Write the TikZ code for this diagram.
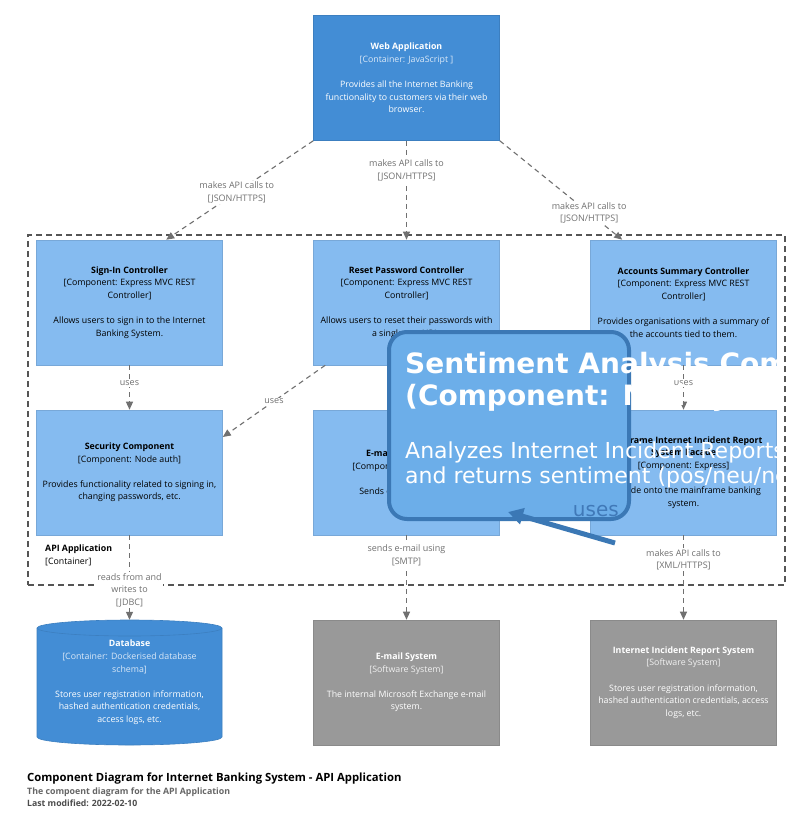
\documentclass[tikz,border=0pt]{standalone}
\usepackage{fontspec}
\setmainfont{Open Sans}
\newfontfamily\djv{DejaVu Sans}
\usetikzlibrary{arrows.meta,calc}
\definecolor{contblue}{HTML}{438DD5}
\definecolor{contedge}{HTML}{3C7FC0}
\definecolor{compblue}{HTML}{85BBF0}
\definecolor{compedge}{HTML}{78A8D8}
\definecolor{sysgray}{HTML}{999999}
\definecolor{sysedge}{HTML}{8A8A8A}
\definecolor{lnk}{HTML}{707070}
\definecolor{bnd}{HTML}{555555}
\definecolor{sentfill}{HTML}{6CAEE9}
\definecolor{sentedge}{HTML}{3B78B5}
\definecolor{usesblue}{HTML}{4079B8}
\begin{document}
\begin{tikzpicture}[x=1pt,y=-1pt,
  boxbase/.style={rectangle, minimum width=186pt, minimum height=125pt, inner sep=0pt, align=center, font=\fontsize{8.8}{12.6}\selectfont},
  compbox/.style={boxbase, fill=compblue, draw=compedge, line width=0.6pt, text=black},
  contbox/.style={boxbase, fill=contblue, draw=contedge, line width=0.6pt, text=white},
  sysbox/.style={boxbase, fill=sysgray, draw=sysedge, line width=0.6pt, text=white},
  rel/.style={draw=lnk, line width=1.1pt, dash pattern=on 5pt off 4pt, -{Triangle[length=8pt,width=7pt]}},
  rellabel/.style={fill=white, text=lnk, font=\fontsize{9}{12.6}\selectfont, align=center, inner sep=1pt},
  senttitle/.style={text=white, inner sep=0pt, font=\djv\bfseries\fontsize{28}{32}\selectfont},
  sentdesc/.style={text=white, inner sep=0pt, font=\djv\fontsize{22}{25}\selectfont},
]
\useasboundingbox (0,0) rectangle (808,827);
\fill[white] (0,0) rectangle (808,827);

% boundary
\node[draw=bnd, line width=1.1pt, dash pattern=on 6pt off 4pt, minimum width=757pt, minimum height=350pt, inner sep=0pt] (api) at (406.5,410) {};
\node[anchor=north west, inner sep=0pt, align=left, font=\fontsize{8.8}{12.6}\selectfont] (apilbl) at (45,545) {\textbf{API Application}\\{}[Container]};

% web app
\node[contbox] (web) at (406.5,78) {\textbf{Web Application}\\\textcolor{white!80!contblue}{[Container: JavaScript ]}\\[12.6pt]Provides all the Internet Banking\\functionality to customers via their web\\browser.};

% components
\node[compbox] (signin) at (129.5,302.5) {\textbf{Sign-In Controller}\\{}[Component: Express MVC REST\\Controller]\\[12.6pt]Allows users to sign in to the Internet\\Banking System.};
\node[compbox] (reset) at (406.5,302.5) {\textbf{Reset Password Controller}\\{}[Component: Express MVC REST\\Controller]\\[12.6pt]Allows users to reset their passwords with\\a single use URL.};
\node[compbox] (accts) at (683.5,302.5) {\textbf{Accounts Summary Controller}\\{}[Component: Express MVC REST\\Controller]\\[12.6pt]Provides organisations with a summary of\\the accounts tied to them.};
\node[compbox] (security) at (129.5,472.5) {\textbf{Security Component}\\{}[Component: Node auth]\\[12.6pt]Provides functionality related to signing in,\\changing passwords, etc.};
\node[compbox] (email) at (406.5,472.5) {\textbf{E-mail Component}\\{}[Component: Nodemailer]\\[12.6pt]Sends e-mails to users.};
\node[compbox] (mainframe) at (683.5,472.5) {\textbf{Mainframe Internet Incident Report}\\\textbf{System Facade}\\{}[Component: Express]\\[12.6pt]A facade onto the mainframe banking\\system.};

% database cylinder
\fill[contblue] (37,628) -- (37,737) arc[start angle=180, end angle=360, x radius=92.5pt, y radius=8pt] -- (222,628) arc[start angle=0, end angle=180, x radius=92.5pt, y radius=8pt] -- cycle;
\draw[contedge, line width=0.6pt] (37,628) -- (37,737) arc[start angle=180, end angle=360, x radius=92.5pt, y radius=8pt] -- (222,628) arc[start angle=0, end angle=180, x radius=92.5pt, y radius=8pt] -- cycle;
\draw[contedge, line width=0.6pt] (37,628) arc[start angle=180, end angle=360, x radius=92.5pt, y radius=8pt];
\node[boxbase, text=white] (db) at (129.5,682.5) {\textbf{Database}\\\textcolor{white!80!contblue}{[Container: Dockerised database}\\\textcolor{white!80!contblue}{schema]}\\[12.6pt]Stores user registration information,\\hashed authentication credentials,\\access logs, etc.};

% external systems
\node[sysbox] (emailsys) at (406.5,682.5) {\textbf{E-mail System}\\\textcolor{white!85!sysgray}{[Software System]}\\[12.6pt]The internal Microsoft Exchange e-mail\\system.};
\node[sysbox] (iirs) at (683.5,682.5) {\textbf{Internet Incident Report System}\\\textcolor{white!85!sysgray}{[Software System]}\\[12.6pt]Stores user registration information,\\hashed authentication credentials, access\\logs, etc.};

% relationships
\draw[rel] (web.south west) -- node[rellabel, pos=0.52] {makes API calls to\\{}[JSON/HTTPS]} ($(signin.north west)+(130,0)$);
\draw[rel] (web.south) -- node[rellabel, pos=0.3] {makes API calls to\\{}[JSON/HTTPS]} (reset.north);
\draw[rel] (web.south east) -- node[rellabel, pos=0.73] {makes API calls to\\{}[JSON/HTTPS]} ($(accts.north west)+(32,0)$);
\draw[rel] (signin.south) -- node[rellabel, pos=0.4] {uses} (security.north);
\draw[rel] ($(reset.south west)+(12,0)$) -- node[rellabel, pos=0.5] {uses} ($(security.east)+(0,-35.5)$);
\draw[rel] (accts.south) -- node[rellabel, pos=0.4] {uses} (mainframe.north);
\draw[rel] (security.south) -- node[rellabel, pos=0.65] {reads from and\\writes to\\{}[JDBC]} (db.north);
\draw[rel] (email.south) -- node[rellabel, pos=0.235] {sends e-mail using\\{}[SMTP]} (emailsys.north);
\draw[rel] (mainframe.south) -- node[rellabel, pos=0.29] {makes API calls to\\{}[XML/HTTPS]} (iirs.north);

% overlay component
\node[draw=sentedge, fill=sentfill, line width=4pt, rounded corners=18pt, minimum width=240pt, minimum height=187pt, inner sep=0pt] (sent) at (509,425.5) {};
\begin{scope}
\clip (0,0) rectangle (779,827);
\node[senttitle, anchor=base west] (stA) at (405,373) {Sentiment Analysis Component};
\node[senttitle, anchor=base west] (stB) at (405,405) {(Component: Node.js)};
\node[sentdesc, anchor=base west] (sdA) at (405,458) {Analyzes Internet Incident Reports};
\node[sentdesc, anchor=base west] (sdB) at (405,483) {and returns sentiment (pos/neu/neg)};
\end{scope}
\node[anchor=base east, inner sep=0pt, text=usesblue, font=\djv\fontsize{20}{24}\selectfont] (suses) at (619,516) {uses};
\coordinate (sarrowstart) at (615,543);
\coordinate (sarrowtip) at (508,512);
\draw[sentedge, line width=5pt, -{Triangle[length=15pt,width=16pt]}] (sarrowstart) -- (sarrowtip);

% titles
\node[anchor=base west, inner sep=0pt, font=\bfseries\fontsize{11.3}{13}\selectfont] (title) at (27,781) {Component Diagram for Internet Banking System - API Application};
\node[anchor=base west, inner sep=0pt, text=black!60, font=\bfseries\fontsize{8.8}{10}\selectfont] (subtitle) at (27,794) {The compoent diagram for the API Application};
\node[anchor=base west, inner sep=0pt, text=black!70, font=\bfseries\fontsize{8.7}{10}\selectfont] (modified) at (27,806) {Last modified: 2022-02-10};
\end{tikzpicture}
\end{document}
